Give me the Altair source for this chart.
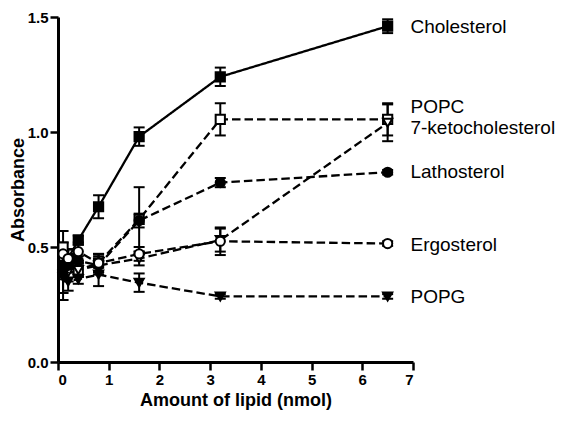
import altair as alt
import pandas as pd

# ---- data ----
x_vals = [0.1, 0.2, 0.4, 0.8, 1.6, 3.2, 6.5]
series_names = ["Cholesterol", "POPC", "7-ketocholesterol", "Lathosterol", "Ergosterol", "POPG"]

cholesterol = [0.42, 0.45, 0.53, 0.675, 0.98, 1.24, 1.46]
cholesterol_err = [0.06, 0.04, 0.02, 0.05, 0.04, 0.04, 0.03]
popc = [0.50, 0.44, 0.40, 0.43, 0.62, 1.055, 1.055]
popc_err = [0.07, 0.05, 0.03, 0.04, 0.14, 0.07, 0.07]
keto = [0.38, 0.39, 0.40, 0.42, 0.45, 0.53, 1.04]
keto_err = [0.11, 0.04, 0.03, 0.04, 0.03, 0.05, 0.08]
lathosterol = [0.40, 0.42, 0.44, 0.42, 0.615, 0.78, 0.825]
lathosterol_err = [0.03, 0.03, 0.02, 0.03, 0.03, 0.02, 0.01]
ergosterol = [0.47, 0.45, 0.48, 0.43, 0.47, 0.525, 0.515]
ergosterol_err = [0.05, 0.04, 0.04, 0.04, 0.03, 0.06, 0.01]
popg = [0.37, 0.35, 0.36, 0.38, 0.345, 0.285, 0.285]
popg_err = [0.07, 0.04, 0.02, 0.05, 0.04, 0.01, 0.01]

label_y = [1.456, 1.11, 1.018, 0.825, 0.51, 0.283]
label_x = 6.95

series_values = [cholesterol, popc, keto, lathosterol, ergosterol, popg]
series_errors = [cholesterol_err, popc_err, keto_err, lathosterol_err, ergosterol_err, popg_err]

rows = []
for name, ys, es in zip(series_names, series_values, series_errors):
    for xv, yv, ev in zip(x_vals, ys, es):
        rows.append({"series": name, "x": xv, "y": yv, "lo": yv - ev, "hi": yv + ev})
df = pd.DataFrame(rows)
labels_df = pd.DataFrame({"series": series_names, "x": [label_x] * len(series_names), "y": label_y})

FONT = "Liberation Sans"

x_scale = alt.Scale(domain=[0, 7], nice=False, zero=False)
y_scale = alt.Scale(domain=[0, 1.5], nice=False, zero=False)

x_axis = alt.Axis(
    title="Amount of lipid (nmol)", values=[0, 1, 2, 3, 4, 5, 6, 7], format="d",
    grid=False, domainColor="black", domainWidth=3, tickColor="black", tickWidth=2.5, tickSize=8,
    labelFont=FONT, labelFontSize=15, labelFontWeight="bold", labelColor="black", labelPadding=2,
    titleFont=FONT, titleFontSize=18, titleFontWeight="bold", titleColor="black", titlePadding=4,
)
y_axis = alt.Axis(
    title="Absorbance", values=[0, 0.5, 1.0, 1.5], format=".1f",
    grid=False, domainColor="black", domainWidth=3, tickColor="black", tickWidth=2.5, tickSize=8,
    labelFont=FONT, labelFontSize=15, labelFontWeight="bold", labelColor="black", labelPadding=2,
    titleFont=FONT, titleFontSize=18, titleFontWeight="bold", titleColor="black", titlePadding=0,
)

dash_range = [[1, 0], [8.5, 4], [8.5, 4], [8.5, 4], [8.5, 4], [8.5, 4]]
shape_range = ["square", "square", "triangle-down", "circle", "circle", "triangle-down"]
fill_range = ["black", "white", "white", "black", "white", "black"]

base = alt.Chart(df)

lines = base.mark_line(color="black", strokeWidth=2.3).encode(
    x=alt.X("x:Q", scale=x_scale, axis=x_axis),
    y=alt.Y("y:Q", scale=y_scale, axis=y_axis),
    strokeDash=alt.StrokeDash("series:N", scale=alt.Scale(domain=series_names, range=dash_range), legend=None),
    detail="series:N",
)

err_rules = base.mark_rule(color="black", strokeWidth=2, opacity=1).encode(
    x="x:Q", y="lo:Q", y2="hi:Q"
)
cap_lo = base.mark_tick(color="black", orient="horizontal", size=11, thickness=2, opacity=1).encode(
    x="x:Q", y="lo:Q"
)
cap_hi = base.mark_tick(color="black", orient="horizontal", size=11, thickness=2, opacity=1).encode(
    x="x:Q", y="hi:Q"
)

points = base.mark_point(stroke="black", strokeWidth=2, size=85, opacity=1, filled=False).encode(
    x="x:Q",
    y="y:Q",
    shape=alt.Shape("series:N", scale=alt.Scale(domain=series_names, range=shape_range), legend=None),
    fill=alt.Fill("series:N", scale=alt.Scale(domain=series_names, range=fill_range), legend=None),
)

labels = alt.Chart(labels_df).mark_text(
    align="left", baseline="middle", font=FONT, fontSize=19, color="black"
).encode(x="x:Q", y="y:Q", text="series:N")

chart = alt.layer(lines, err_rules, cap_lo, cap_hi, points, labels).properties(
    width=355, height=345,
    autosize=alt.AutoSizeParams(type="none"),
    padding={"left": 50, "top": 9, "right": 145, "bottom": 51},
).configure_view(stroke=None)

chart.save("out.html", embed_options={"renderer": "svg", "actions": False})
